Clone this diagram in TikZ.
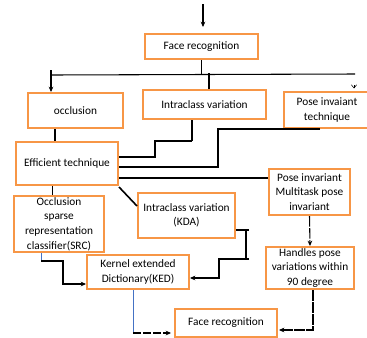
\documentclass[tikz,border=0pt]{standalone}
\usepackage{fontspec}
\setmainfont{Carlito}
\usetikzlibrary{arrows.meta,positioning,calc}
\definecolor{boxorange}{RGB}{247,150,70}
\definecolor{linkblue}{RGB}{68,114,196}

\begin{document}
\begin{tikzpicture}[x=0.75pt, y=-0.75pt,
  box/.style={draw=boxorange, line width=1.5pt, align=center, inner sep=1pt,
    font=\fontsize{8.5}{11}\selectfont},
  boxsize/.style 2 args={minimum width=#1*0.75pt, minimum height=#2*0.75pt},
  link/.style={line width=0.8pt},
  tip/.style={-{Stealth[length=4pt,width=3.5pt]}}]
\useasboundingbox (0,0) rectangle (367,337);
\clip (0,0) rectangle (367,337);

\node[box, boxsize={113}{25}] (face1) at (201.5,46.5) {Face recognition};
\node[box, boxsize={95}{35}] (occl) at (75.5,110.5) {occlusion};
\node[box, boxsize={123}{29}] (intra) at (204.5,104.5) {Intraclass variation};
\node[box, boxsize={86}{36}] (pose) at (327,110) {Pose invaiant\\technique};
\node[box, boxsize={102}{43}] (eff) at (67,163.5) {Efficient technique};
\node[box, boxsize={81}{46}] (multi) at (309.5,192) {Pose invariant\\Multitask pose\\invariant};
\node[box, boxsize={97}{45}] (kda) at (186.5,215.5) {Intraclass variation\\(KDA)};
\node[box, boxsize={90}{56}] (src) at (59,224) {Occlusion\\sparse\\representation\\classifier(SRC)};
\node[box, boxsize={102}{34}] (ked) at (138,272) {Kernel extended\\Dictionary(KED)};
\node[box, boxsize={88}{42}] (hand) at (310,268) {Handles pose\\variations within\\90 degree};
\node[box, boxsize={102}{28}] (face2) at (226,322.5) {Face recognition};

% top split
\coordinate (start) at ($(face1.north)+(1.5,-29)$);
\draw[line width=1.2pt, tip] (start) -- ++(0,23);
\draw[line width=1.2pt] (face1.south) -- ++(0,15) coordinate (bus);
\coordinate (busL) at (51,70);
\coordinate (busR) at (355,74);
\draw[link] (busL |- bus) -- (busR);
\draw[link, tip] (busL) -- (busL |- occl.north);
\draw[link] ($(intra.north)+(4.5,0)$) -- ++(0,-16);
\coordinate (pr) at (354,85);
\draw[thin, -{Straight Barb[length=2.5pt,width=4pt]}] (pr) -- ($(pr |- pose.north)+(0,-2.5)$);

% into efficient technique
\draw[line width=1.5pt] ($(occl.south)+(-20.5,0)$) coordinate (o1) -- (o1 |- eff.north);
\draw[line width=1.2pt] ($(intra.south)+(-12.5,0)$) -- ++(0,21) coordinate (i1);
\draw[link] (i1) -- ++(-37,0) |- ($(eff.east)+(0,-6.5)$);
\draw[link] ($(pose.south)+(-7,0)$) -- ++(-102,0) |- ($(eff.east)+(0,3.5)$);

% out of efficient technique
\draw[line width=1.3pt] ($(eff.east)+(0,14.5)$) coordinate (e3) -- (e3 -| multi.west);
\draw[line width=1.2pt] ($(eff.south east)+(0,1)$) -- ($(kda.north west)+(0,14)$);
\draw[thin] ($(eff.south)+(-15,0)$) coordinate (e4) -- (e4 |- src.north);

% into kernel extended dictionary
\coordinate (k1) at ($(kda.east)+(10,14.5)$);
\draw[link] ($(kda.east)+(0,14.5)$) -- ($(k1)+(3,0)$);
\draw[line width=1.6pt] (k1) -- ++(0,29) coordinate (k2);
\draw[link, tip] ($(k2)+(3,0)$) -- ++(-30,0) |- ($(ked.east)+(0,6)$);
\draw[linkblue, thin] ($(src.south)+(-18,0)$) -- ++(0,8) coordinate (s1);
\draw[line width=1.2pt, tip] (s1) -- ++(22,0) |- ($(ked.west)+(0,12)$);

% pose side
\draw[link, dash pattern=on 8pt off 1pt, tip] (multi.south) -- (hand.north);

% final face recognition
\draw[linkblue, thin] ($(ked.south)+(-5,0)$) -- ++(0,43) coordinate (b1);
\draw[link, dash pattern=on 6pt off 1.5pt, tip] (b1) -- ($(b1 -| face2.west)+(-3,0)$);
\draw[link, dash pattern=on 8pt off 1pt, tip] ($(hand.south)+(3,0)$) -- ++(0,40) coordinate (h1)
  -- ($(h1 -| face2.east)+(1,0)$);
\end{tikzpicture}
\end{document}
